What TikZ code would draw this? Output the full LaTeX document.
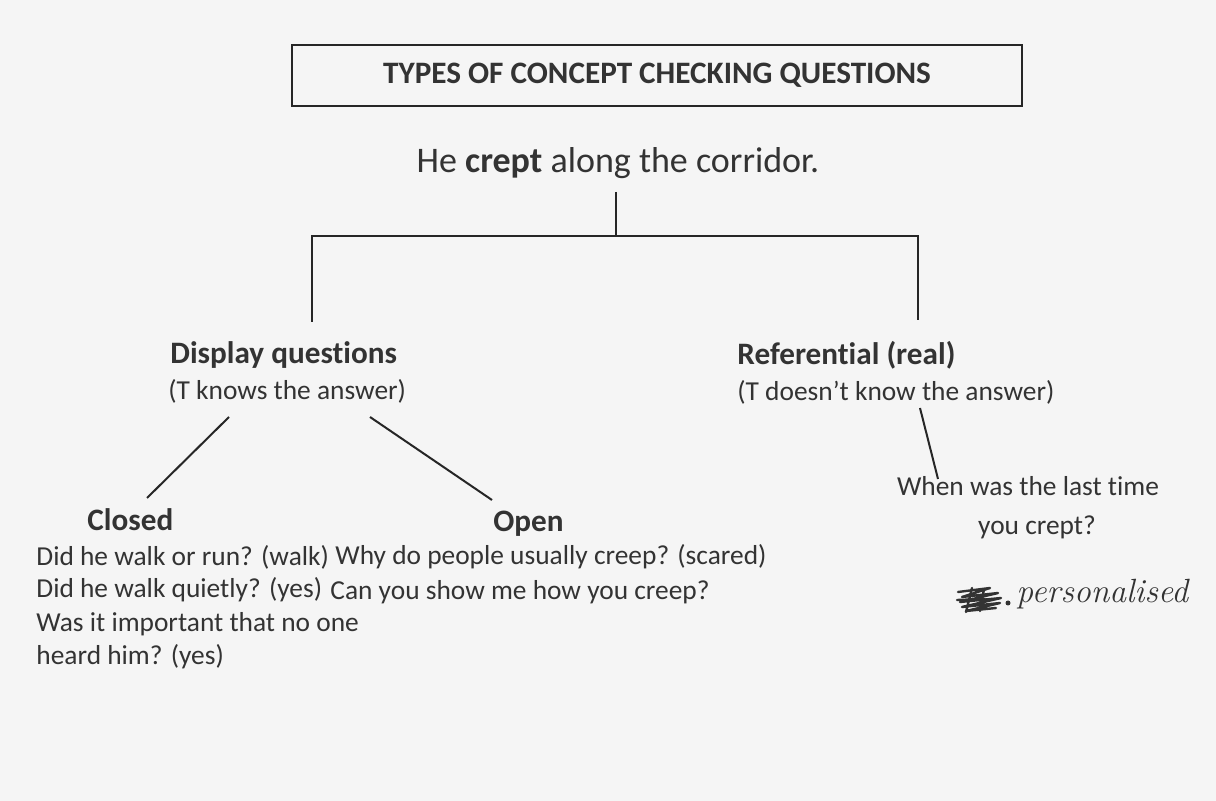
\documentclass[tikz,border=0pt]{standalone}
\usepackage{fontspec}
\setsansfont{Carlito}[Ligatures=NoCommon]
\renewcommand{\familydefault}{\sfdefault}
\usetikzlibrary{calc}
\definecolor{ink}{HTML}{333333}
\definecolor{paper}{HTML}{F5F5F5}

\begin{document}
\begin{tikzpicture}[x=0.5pt, y=-0.5pt,
    heading/.style={anchor=base west, inner sep=0pt, text=ink,
      font=\fontsize{15.6}{18}\selectfont\bfseries},
    note/.style={anchor=base west, inner sep=0pt, text=ink,
      font=\fontsize{13.7}{16.5}\selectfont},
    branch/.style={line width=1pt, black!85}]
  \fill[paper] (0,0) rectangle (1216,801);
  \useasboundingbox (0,0) rectangle (1216,801);

  % title and sentence
  \node[draw, line width=1pt, black!85, text=ink, minimum width=365pt, minimum height=30.5pt,
    inner sep=0pt, font=\fontsize{15.6}{18}\selectfont\bfseries] (title) at (657,75.5)
    {TYPES OF CONCEPT CHECKING QUESTIONS};
  \node[anchor=base, inner sep=0pt, text=ink, font=\fontsize{18}{21}\selectfont] (sent) at (618,173)
    {He \textbf{crept} along the corridor.};

  % the two kinds
  \node[heading] (disp) at (170,364) {Display questions};
  \node[note] (dispsub) at (168,400) {(T knows the answer)};
  \node[heading] (ref) at (737,365) {Referential (real)};
  \node[note] (refsub) at (737,401) {(T doesn’t know the answer)};

  \coordinate (stem) at (616,192);
  \coordinate (fork) at (616,236);
  \coordinate (lturn) at (312,236);
  \coordinate (rturn) at (918,236);
  \coordinate (lend) at (312,322);
  \coordinate (rend) at (918,320);
  \draw[branch] (stem) -- (fork);
  \draw[branch] (lend) -- (lturn) -- (rturn) -- (rend);

  % display questions
  \node[heading] (closed) at (87,531) {Closed};
  \node[heading] (open) at (493,532) {Open};
  \node[note] (closedA) at (36,566) {Did he walk or run? (walk)};
  \node[note] (closedB) at (36,598) {Did he walk quietly? (yes)};
  \node[note] (closedC) at (36,632) {Was it important that no one};
  \node[note] (closedD) at (36,665) {heard him? (yes)};
  \node[note] (openA) at (335,565) {Why do people usually creep? (scared)};
  \node[note] (openB) at (330,600) {Can you show me how you creep?};

  \coordinate (dispL) at (229,417);
  \coordinate (closedtop) at (147,498);
  \coordinate (dispR) at (370,417);
  \coordinate (opentop) at (492,500);
  \draw[branch] (dispL) -- (closedtop);
  \draw[branch] (dispR) -- (opentop);

  % referential
  \node[note, anchor=base] (whenA) at (1028,496) {When was the last time};
  \node[note, anchor=base] (whenB) at (1037,535) {you crept?};
  \coordinate (refL) at (920,408);
  \coordinate (whentop) at (938,479);
  \draw[branch] (refL) -- (whentop);

  % handwritten note
  \draw[ink, line width=1.2pt, line join=round, line cap=round]
    (958,592) -- (990,588) -- (962,597) -- (998,593) -- (960,602) -- (1001,598)
    -- (962,607) -- (1000,603) -- (966,611) -- (996,608);
  \draw[ink, line width=1.2pt, line cap=round] (957,600) -- (985,599);
  \draw[ink, line width=1.2pt, line cap=round] (972,588) -- (966,612);
  \draw[ink, line width=1.2pt, line cap=round] (984,589) -- (980,611);
  \fill[ink] (1008,603) circle (2.5);
  \node[anchor=base west, inner sep=0pt, text=ink, font=\rmfamily\itshape\fontsize{16.8}{19}\selectfont]
    (hand) at (1016,603) {personalised};
\end{tikzpicture}
\end{document}
